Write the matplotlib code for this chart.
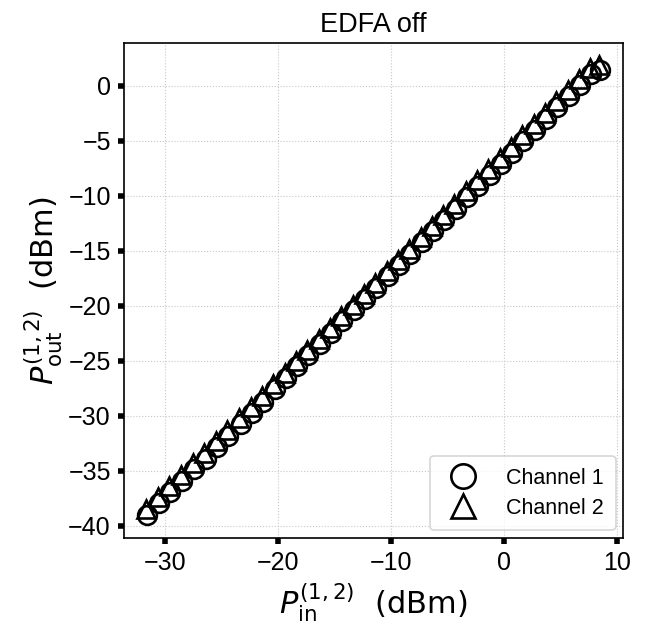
import numpy as np
import matplotlib
matplotlib.use('Agg')
import matplotlib.pyplot as plt

# input / output power of the two channels, EDFA switched off
pin_ch1 = [-31.6, -30.5, -29.5, -28.5, -27.4, -26.4, -25.4, -24.4, -23.3, -22.3,
           -21.3, -20.3, -19.3, -18.3, -17.3, -16.3, -15.3, -14.3, -13.3, -12.3,
           -11.3, -10.3, -9.3, -8.3, -7.3, -6.3, -5.3, -4.3, -3.3, -2.3,
           -1.3, -0.3, 0.7, 1.7, 2.7, 3.7, 4.7, 5.7, 6.7, 7.7, 8.5]
pout_ch1 = [-39.0, -37.9, -36.9, -35.9, -34.8, -33.9, -32.8, -31.8, -30.7, -29.7,
            -28.7, -27.6, -26.6, -25.5, -24.5, -23.5, -22.5, -21.4, -20.4, -19.4,
            -18.4, -17.3, -16.3, -15.3, -14.2, -13.2, -12.2, -11.2, -10.1, -9.1,
            -8.1, -7.1, -6.1, -5.0, -4.0, -3.0, -1.9, -0.9, 0.1, 1.1, 1.4]
pin_ch2 = [-31.7, -30.6, -29.6, -28.6, -27.5, -26.5, -25.5, -24.5, -23.4, -22.4,
           -21.4, -20.4, -19.4, -18.4, -17.4, -16.4, -15.4, -14.4, -13.4, -12.4,
           -11.4, -10.4, -9.4, -8.4, -7.4, -6.4, -5.4, -4.4, -3.4, -2.4,
           -1.4, -0.4, 0.6, 1.6, 2.6, 3.6, 4.6, 5.6, 6.6, 7.6, 8.4]
pout_ch2 = [-38.5, -37.4, -36.4, -35.4, -34.3, -33.4, -32.3, -31.3, -30.2, -29.2,
            -28.2, -27.1, -26.1, -25.0, -24.0, -23.0, -22.0, -20.9, -19.9, -18.9,
            -17.9, -16.8, -15.8, -14.8, -13.7, -12.7, -11.7, -10.7, -9.6, -8.6,
            -7.6, -6.6, -5.6, -4.5, -3.5, -2.5, -1.4, -0.4, 0.6, 1.6, 1.9]

xticks = [-30, -20, -10, 0, 10]
yticks = [0, -5, -10, -15, -20, -25, -30, -35, -40]

plt.rcParams['font.family'] = ['Liberation Sans', 'DejaVu Sans']

fig = plt.figure(figsize=(6.47, 6.29), dpi=100)
ax = fig.add_axes([0.1917, 0.1447, 0.7713, 0.787])

ax.plot(pin_ch1, pout_ch1, linestyle='none', marker='o', ms=13.5, mfc='none',
        mec='black', mew=1.9, label='Channel 1')
ax.plot(pin_ch2, pout_ch2, linestyle='none', marker='^', ms=13.5, mfc='none',
        mec='black', mew=1.9, label='Channel 2')

ax.set_xlim(-33.6, 10.5)
ax.set_ylim(-41.1, 3.9)
ax.set_xticks(xticks)
ax.set_yticks(yticks)
ax.grid(True, linestyle=':', color='#c8c8c8', linewidth=0.8)
ax.tick_params(direction='out', length=4.5, width=4, labelsize=18, pad=5)
for s in ax.spines.values():
    s.set_linewidth(1.2)

ax.set_title('EDFA off', fontsize=19.5, pad=8)
ax.set_xlabel(r'$P_{\rm in}^{(1,2)}$  (dBm)', fontsize=22, family='DejaVu Sans')
ax.set_ylabel(r'$P_{\rm out}^{(1,2)}$  (dBm)', fontsize=22, family='DejaVu Sans',
              labelpad=2)

leg = ax.legend(loc='lower right', fontsize=15.5, markerscale=1.3,
                handletextpad=1.0, borderpad=0.55, labelspacing=0.4,
                borderaxespad=0.35, fancybox=True)
leg.get_frame().set_edgecolor('#cccccc')
leg.get_frame().set_linewidth(1.2)

fig.savefig('out.png', dpi=100)
